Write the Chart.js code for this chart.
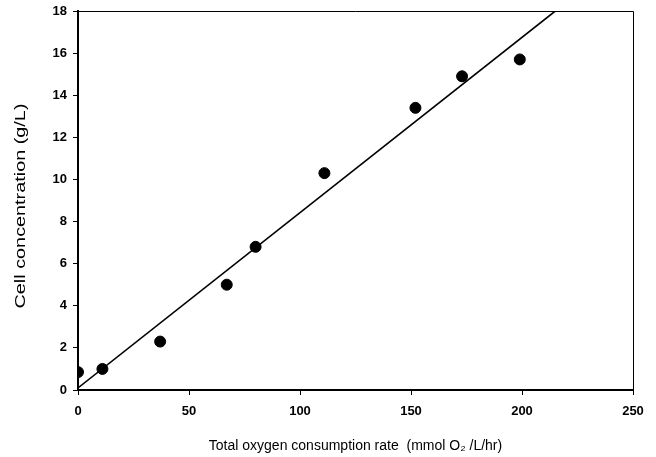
<!DOCTYPE html>
<html>
<head>
<meta charset="utf-8">
<script src="https://cdn.jsdelivr.net/npm/chart.js@4"></script>
<style>
  html, body { margin: 0; padding: 0; background: #fff; }
  #wrap { width: 656px; height: 457px; position: relative; }
</style>
</head>
<body>
<div id="wrap"><canvas id="chart" width="656" height="457"></canvas></div>
<script>
// measured data (oxygen consumption rate vs cell concentration)
const oxygenRate = [0, 11, 37, 67, 80, 111, 152, 173, 199];
const cellConc = [0.85, 1.0, 2.3, 5.0, 6.8, 10.3, 13.4, 14.9, 15.7];
// regression line end points
const fitX = [0, 215];
const fitY = [0.1, 18];
const xTicks = [0, 50, 100, 150, 200, 250];
const yTicks = [0, 2, 4, 6, 8, 10, 12, 14, 16, 18];
const yTitle = 'Cell concentration (g/L)';

// top/right frame lines + stretched y title like the original figure
const frame = {
  id: 'frame',
  afterDraw(chart) {
    const { ctx, chartArea: a } = chart;
    ctx.save();
    ctx.strokeStyle = '#000';
    ctx.lineWidth = 1;
    ctx.beginPath();
    ctx.moveTo(a.left, a.top + 0.5);
    ctx.lineTo(a.right + 0.5, a.top + 0.5);
    ctx.lineTo(a.right + 0.5, a.bottom);
    ctx.stroke();

    ctx.font = '15px "Liberation Sans"';
    ctx.fillStyle = '#000';
    ctx.textAlign = 'center';
    ctx.textBaseline = 'middle';
    const w = ctx.measureText(yTitle).width;
    ctx.translate(21, 206);
    ctx.rotate(-Math.PI / 2);
    ctx.scale(205 / w, 1);
    ctx.fillText(yTitle, 0, 0);
    ctx.restore();
  }
};

new Chart(document.getElementById('chart'), {
  type: 'scatter',
  data: {
    datasets: [
      {
        data: oxygenRate.map((x, i) => ({ x, y: cellConc[i] })),
        backgroundColor: '#000',
        borderColor: '#000',
        pointRadius: 5.5,
        order: 1,
      },
      {
        type: 'line',
        data: fitX.map((x, i) => ({ x, y: fitY[i] })),
        borderColor: '#000',
        borderWidth: 1.6,
        pointRadius: 0,
        fill: false,
        order: 2,
      },
    ],
  },
  options: {
    responsive: false,
    animation: false,
    devicePixelRatio: 1,
    layout: { padding: { left: 0, top: 11, right: 23, bottom: 0 } },
    plugins: { legend: { display: false }, tooltip: { enabled: false } },
    scales: {
      x: {
        type: 'linear',
        min: 0,
        max: 250,
        afterBuildTicks: (s) => { s.ticks = xTicks.map((v) => ({ value: v })); },
        afterFit: (s) => { s.height = 67; s.paddingRight = 0; s.paddingLeft = 0; },
        grid: { display: true, drawOnChartArea: false, drawTicks: true, tickLength: 5, color: '#000' },
        border: { color: '#000', width: 2 },
        ticks: { color: '#000', font: { family: 'Liberation Sans', size: 13, weight: 'bold' }, padding: 9, maxRotation: 0 },
        title: {
          display: true,
          text: 'Total oxygen consumption rate  (mmol O\u2082 /L/hr)',
          color: '#000',
          font: { family: 'Liberation Sans', size: 14 },
          padding: { top: 10, bottom: 2 },
        },
      },
      y: {
        min: 0,
        max: 18,
        afterBuildTicks: (s) => { s.ticks = yTicks.map((v) => ({ value: v })); },
        afterFit: (s) => { s.width = 78; s.paddingTop = 0; s.paddingBottom = 0; },
        grid: { display: true, drawOnChartArea: false, drawTicks: true, tickLength: 5, color: '#000' },
        border: { color: '#000', width: 2 },
        ticks: { color: '#000', font: { family: 'Liberation Sans', size: 13, weight: 'bold' }, padding: 6 },
      },
    },
  },
  plugins: [frame],
});
</script>
</body>
</html>
